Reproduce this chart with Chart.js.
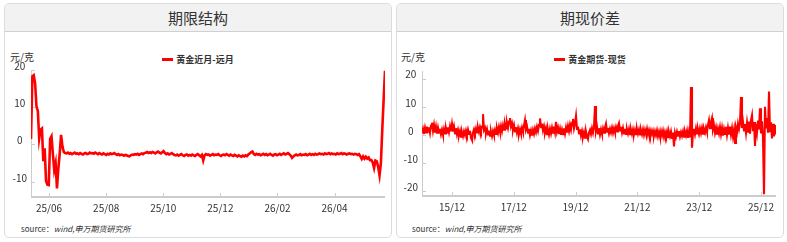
<!DOCTYPE html>
<html><head><meta charset="utf-8">
<script src="https://cdn.jsdelivr.net/npm/chart.js@4.4.1/dist/chart.umd.min.js"></script>
<style>
body{margin:0;width:787px;height:242px;background:#fff;position:relative;overflow:hidden;font-family:"Noto Sans CJK SC","Noto Sans",sans-serif;color:#333}
.panel{position:absolute;top:3px;width:388px;height:235px;box-sizing:border-box;border:1px solid #dcdcdc;border-radius:5px;background:#fff;overflow:hidden}
.head{height:27px;background:#f2f2f2;border-bottom:1px solid #d0d0d0;text-align:center;font-size:15px;line-height:27px;color:#333}
.unit{position:absolute;top:50px;font-size:10px;line-height:14px;color:#333}
.legend{position:absolute;top:53px;width:388px;text-align:center;font-size:9px;font-weight:bold;line-height:14px;color:#333}
.legend i{display:inline-block;width:11px;height:3px;background:#ff0000;vertical-align:middle;margin-right:3px;position:relative;top:-1px}
.source{position:absolute;top:223px;font-size:8px;line-height:12px;color:#333}
.source em{font-style:italic}
canvas{position:absolute;top:31px}
</style></head>
<body>
<div class="panel" style="left:4px"><div class="head">期限结构</div></div>
<div class="panel" style="left:396px"><div class="head">期现价差</div></div>
<div class="unit" style="left:10px">元/克</div>
<div class="unit" style="left:401px">元/克</div>
<div class="legend" style="left:4px"><i></i>黄金近月-远月</div>
<div class="legend" style="left:396px"><i></i>黄金期货-现货</div>
<div class="source" style="left:21px">source：<em>wind,申万期货研究所</em></div>
<div class="source" style="left:412px">source：<em>wind,申万期货研究所</em></div>
<canvas id="c1" width="388" height="190" style="left:4px"></canvas>
<canvas id="c2" width="388" height="190" style="left:396px"></canvas>
<script>
// ---- 期限结构: 黄金近月-远月 (元/克)
const nearFarName = '黄金近月-远月';
const nearFarTickLabels = ['25/06','25/08','25/10','25/12','26/02','26/04'];
const nearFarYTicks = [-10, 0, 10, 20];
const nearFarRange = ['25/05/12', '26/05/24'];
const nearFarValues = [
 1.5, 18.3, 18.6, 16.5, 10.2, 9.0, 1.6, 4.0, 4.3, -4.5,
 -1.0, -9.8, -10.8, -10.9, 1.5, 2.2, -2.5, -6.8, -5.0, -11.8,
 -6.5, -2.5, 2.6, -0.5, -2.0, -2.3,
 -2.4, -2.2, -2.5, -2.3, -2.6, -2.4, -2.2, -2.5, -2.4, -2.6,
 -2.3, -2.5, -2.7, -2.4, -2.3, -2.6, -2.5, -2.2, -2.4, -2.3,
 -2.5, -2.2, -2.4, -2.6, -2.3, -2.5, -2.7, -2.4, -2.6, -2.8,
 -2.5, -2.7, -2.4, -2.6, -2.5, -2.3, -2.6, -2.8, -2.6, -2.9,
 -2.7, -2.8, -3.0, -2.8, -2.9, -3.1, -3.2, -2.9, -2.7, -2.8,
 -2.6, -2.7, -2.5, -2.8, -2.6, -2.4, -2.6, -2.3, -2.2, -2.0,
 -2.3, -2.1, -2.3, -2.0, -2.2, -2.4, -2.1, -1.9, -2.2, -2.4,
 -2.1, -1.8, -2.3, -2.6, -2.4, -2.7, -2.5, -2.3, -2.6, -2.8,
 -2.9, -2.7, -3.0, -2.8, -2.6, -2.9, -3.1, -2.8, -2.7, -3.0,
 -2.8, -3.0, -2.7, -2.9, -3.1, -2.8, -2.6, -2.9, -3.2, -2.8,
 -4.3, -2.9, -2.6, -2.8, -2.7, -3.0, -2.8, -2.6, -2.9, -2.7,
 -2.8, -2.6, -2.9, -3.1, -2.8, -2.7, -2.9, -2.6, -2.8, -3.0,
 -2.7, -2.9, -3.1, -2.8, -3.0, -3.2, -2.9, -3.1, -3.3, -3.0,
 -3.2, -2.9, -3.1, -2.7, -2.4, -2.1, -1.9, -2.6, -2.8, -2.5,
 -2.7, -2.6, -2.9, -2.7, -2.5, -2.8, -2.6, -2.9, -2.7, -2.5,
 -2.8, -3.0, -2.7, -2.6, -2.9, -2.7, -2.5, -2.8, -2.6, -2.4,
 -2.7, -2.5, -2.3, -2.6, -3.0, -3.6, -3.2, -2.9, -2.7, -2.9,
 -2.8, -2.6, -2.9, -2.7, -2.8, -2.6, -2.9, -2.7, -2.5, -2.8,
 -2.6, -2.8, -2.5, -2.7, -2.6, -2.4, -2.6, -2.5, -2.7, -2.4,
 -2.6, -2.5, -2.3, -2.6, -2.4, -2.6, -2.5, -2.7, -2.4, -2.6,
 -2.5, -2.3, -2.6, -2.4, -2.5, -2.7, -2.5, -2.4, -2.6, -2.5,
 -2.7, -2.5, -2.6, -2.8,
 -2.6, -3.2, -3.9, -3.2, -3.8, -3.3, -3.8, -3.5, -4.2, -4.2,
 -4.8, -6.3, -4.3, -4.5, -6.0, -8.3, -5.0, 4.0, 12.0, 19.8
];

// ---- 期现价差: 黄金期货-现货 (元/克)
const basisName = '黄金期货-现货';
const basisTickLabels = ['15/12','17/12','19/12','21/12','23/12','25/12'];
const basisYTicks = [-20, -10, 0, 10, 20];
const basisRange = ['14/12/11', '26/05/26'];
const basisValues = [
 0.7, 2.2, 0.4, 2.6, 0.9, 3.0, 1.2, 2.8, 0.8, 3.4,
 4.4, 1.5, 3.6, 0.9, 3.0, 0.5, 2.6, 0.8, 2.2, 0.3,
 1.9, 0.2, 2.1, 0.6, 2.4, 0.9, 2.8, 1.0, 3.1, 1.3,
 3.9, 1.2, 3.0, 0.6, 2.4, 0.2, 1.8, -0.1, 1.4, -0.6,
 1.0, -0.4, 1.3, 0.0, 1.6, 0.2, 1.9, 0.4, 1.5, -1.0,
 -1.8, 0.8, 2.0, 0.7, 2.3, 0.9, 2.6, 1.1, 2.8, 1.4,
 3.0, 7.4, 1.8, 2.6, 0.6, 2.1, 0.2, 1.6, -0.2, 1.2,
 -0.4, 1.4, 0.0, 1.8, 0.4, 2.3, 0.8, 2.9, 1.2, 3.2,
 1.4, 3.5, 1.9, 3.9, 2.3, 4.3, 2.6, 4.8, 6.0, 3.0,
 4.2, 1.9, 3.5, 1.3, 2.8, 0.8, 2.4, 0.4, 2.0, 0.6,
 2.6, 1.2, 3.4, 5.3, 2.0, 3.0, 0.8, 2.2, 0.0, 1.6,
 -0.2, 1.8, 0.4, 2.3, 1.0, 2.9, 1.5, 3.6, 5.9, 2.8,
 4.0, 1.6, 3.1, 0.9, 2.4, 0.3, 1.9, 0.2, 2.2, 0.6,
 2.6, 0.8, 3.0, 1.0, 4.7, 1.2, 2.6, 0.4, 2.2, 0.1,
 1.9, 0.3, 2.4, 0.5, 2.7, 0.9, 3.2, 1.4, 3.6, 1.9,
 4.3, 5.7, 2.4, 4.1, 6.7, 2.2, 3.0, 0.6, 2.0, -0.2,
 1.4, -0.6, 1.0, -0.9, 1.2, -0.4, -1.4, 0.8, 1.8, 0.4,
 2.4, 0.8, 2.8, 10.3, 1.4, 3.0, 0.6, 2.4, 0.2, 2.0,
 0.5, 2.3, 0.8, 2.6, 4.0, 1.2, 2.5, 0.6, 2.2, 0.9,
 2.6, 0.8, 2.4, 1.0, 2.8, 1.3, 3.2, 4.2, 1.6, 2.9,
 0.9, 2.5, 0.6, 2.2, 0.4, 2.0, 0.5, 2.1, 0.3, 1.9,
 0.4, 2.0, 0.2, 1.8, 0.3, 2.1, 0.5, 1.9, 0.2, 1.7,
 0.3, 2.0, 0.1, 1.8, 0.4, 2.2, 0.2, 1.7, 0.0, 1.6,
 0.2, 1.5, -0.3, 1.3, -0.1, 1.6, -0.4, 1.2, -0.5, 1.4,
 -0.2, 1.5, -0.6, 1.1, -0.3, 1.3, -0.8, 1.0, -0.4, 1.2,
 -1.0, 0.9, -4.0, 0.8, -0.6, 1.2, -0.2, 1.4, -0.5, 1.0,
 -0.3, 1.3, -0.6, 1.1, -0.2, 1.5, -1.0, 1.2, -0.8, 17.0,
 -4.5, 1.0, 2.2, 0.3, 2.4, 0.6, 2.0, 0.4, 2.3, 0.7,
 2.5, 0.5, 2.1, 0.9, 2.7, 1.2, 3.6, 5.3, 2.4, 4.5,
 6.0, 2.0, 3.4, 0.8, 2.6, 0.2, 2.3, 0.6, 2.8, 0.3,
 2.5, -0.2, 2.1, 0.4, 2.9, 0.1, 2.6, 0.5, 3.0, 0.2,
 2.4, -0.5, 1.8, -2.8, 2.5, 1.0, 4.0, 2.2, 4.4, 13.5,
 2.5, 4.6, 1.6, 3.9, 0.8, 4.3, 1.2, 4.8, 0.5, 5.2,
 7.0, 1.4, 4.6, -3.9, 4.0, 1.0, 5.1, 2.0, 9.5, 0.6,
 4.9, -1.0, -21.0, 10.0, 2.4, 6.0, 0.8, 15.4, 1.0, 4.5,
 -1.2, 4.0, -0.5, 3.5, 0.2
];

// 'YY/MM' or 'YY/MM/DD' -> month index
function toMonth(s) {
  const p = s.split('/').map(Number);
  return p[0] * 12 + (p[1] - 1) + (p.length > 2 ? (p[2] - 1) / 30 : 0);
}

Chart.defaults.font.family = '"Noto Sans CJK SC","Noto Sans",sans-serif';

const axisDecor = {
  id: 'axisDecor',
  beforeDatasetsDraw(chart) {
    const {ctx, chartArea: a, scales: {x, y}} = chart;
    ctx.save();
    ctx.strokeStyle = '#cccccc';
    ctx.lineWidth = 1;
    ctx.beginPath();
    ctx.moveTo(a.left + 0.5, a.top);
    ctx.lineTo(a.left + 0.5, a.bottom);
    y.ticks.forEach(t => {
      const py = Math.round(y.getPixelForValue(t.value)) + 0.5;
      ctx.moveTo(a.left, py); ctx.lineTo(a.left + 4, py);
    });
    x.ticks.forEach(t => {
      const px = Math.round(x.getPixelForValue(t.value)) + 0.5;
      ctx.moveTo(px, a.bottom); ctx.lineTo(px, a.bottom - 4);
    });
    ctx.stroke();
    ctx.lineWidth = 2;
    ctx.beginPath();
    ctx.moveTo(a.left, a.bottom);
    ctx.lineTo(a.right, a.bottom);
    ctx.stroke();
    ctx.restore();
  }
};

function makeChart(id, cfg) {
  const [x0, x1] = cfg.range.map(toMonth);
  const n = cfg.values.length;
  const pts = cfg.values.map((v, i) => ({x: x0 + i * (x1 - x0) / (n - 1), y: v}));
  const tickVals = cfg.tickLabels.map(toMonth);
  return new Chart(document.getElementById(id), {
    type: 'line',
    data: {datasets: [{label: cfg.name, data: pts, borderColor: '#ff0000', borderWidth: cfg.lw,
      pointRadius: 0, tension: 0, fill: false}]},
    options: {
      responsive: false, animation: false, events: [],
      layout: {padding: cfg.pad},
      plugins: {legend: {display: false}, tooltip: {enabled: false}},
      scales: {
        x: {type: 'linear', min: x0, max: x1,
          grid: {display: false, drawTicks: false}, border: {display: false},
          afterBuildTicks: s => { s.ticks = tickVals.map(v => ({value: v})); },
          afterFit: s => { s.height = cfg.xh; },
          ticks: {autoSkip: false, maxRotation: 0, padding: 5, color: '#333', font: {size: 10},
            callback: v => { const k = tickVals.indexOf(v); return k >= 0 ? cfg.tickLabels[k] : ''; }}},
        y: {min: cfg.ymin, max: cfg.ymax,
          grid: {display: false, drawTicks: false}, border: {display: false},
          afterBuildTicks: s => { s.ticks = cfg.yTicks.map(v => ({value: v})); },
          afterFit: s => { s.width = cfg.yw; },
          ticks: {crossAlign: 'center', padding: 4, labelOffset: -4, color: '#333', font: {size: 10}}}
      }
    },
    plugins: [axisDecor]
  });
}

makeChart('c1', {name: nearFarName, values: nearFarValues, range: nearFarRange,
  tickLabels: nearFarTickLabels, yTicks: nearFarYTicks, ymin: -14.1, ymax: 20,
  lw: 2.6, pad: {left: 0, right: 7, top: 39, bottom: 0}, xh: 24, yw: 27});
makeChart('c2', {name: basisName, values: basisValues, range: basisRange,
  tickLabels: basisTickLabels, yTicks: basisYTicks, ymin: -21.6, ymax: 22.7,
  lw: 2.1, pad: {left: 0, right: 8, top: 40, bottom: 0}, xh: 25, yw: 26});
</script>
</body></html>
